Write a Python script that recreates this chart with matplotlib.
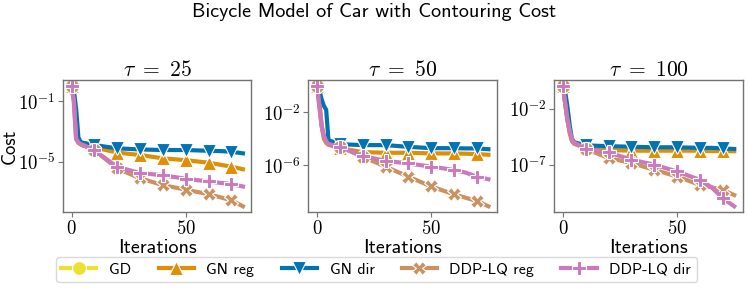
"""Bicycle model contouring-cost convergence, three horizons."""

import matplotlib

matplotlib.use("Agg")
import matplotlib.pyplot as plt
import numpy as np

plt.rcParams["mathtext.fontset"] = "cm"
plt.rcParams["font.family"] = ["cmss10", "DejaVu Sans"]
plt.rcParams["axes.unicode_minus"] = False

# iteration grid the values were read at
iters = [0, 1, 2, 3, 4, 5, 10, 20, 30, 40, 50, 60, 65, 70, 75]
horizons = [25, 50, 100]
methods = ["GD", "GN reg", "GN dir", "DDP-LQ reg", "DDP-LQ dir"]

# log10(cost), one list per horizon; GD is not visible in the picture
gd_log = [[], [], []]
gn_reg_log = [
    [0.0, -0.5, -2.8, -3.7, -3.85, -3.95, -4.06, -4.4, -4.56, -4.78, -4.9, -5.07, -5.2, -5.33, -5.5],
    [0.0, -1.0, -3.0, -4.0, -4.3, -4.45, -4.7, -5.0, -5.05, -5.05, -5.1, -5.1, -5.12, -5.15, -5.2],
    [0.0, -1.5, -3.0, -4.2, -4.9, -5.15, -5.5, -5.7, -5.75, -5.75, -5.75, -5.75, -5.78, -5.8, -5.8],
]
gn_dir_log = [
    [0.0, -0.3, -1.5, -3.4, -3.7, -3.75, -3.9, -4.12, -4.19, -4.23, -4.23, -4.28, -4.3, -4.34, -4.45],
    [0.0, -0.3, -1.0, -1.5, -1.8, -4.1, -4.4, -4.47, -4.47, -4.6, -4.7, -4.7, -4.72, -4.72, -4.78],
    [0.0, -0.5, -1.8, -3.5, -4.7, -5.0, -5.28, -5.35, -5.4, -5.45, -5.45, -5.5, -5.5, -5.55, -5.6],
]
ddp_reg_log = [
    [0.0, -1.0, -3.5, -3.75, -3.85, -3.9, -4.25, -5.45, -6.1, -6.55, -6.85, -7.15, -7.35, -7.55, -7.95],
    [0.0, -1.5, -3.0, -3.8, -4.2, -4.4, -4.6, -5.35, -6.1, -6.86, -7.6, -8.2, -8.45, -8.7, -9.1],
    [0.0, -1.5, -3.0, -4.0, -4.8, -5.05, -5.6, -6.4, -6.85, -7.45, -8.05, -8.8, -9.0, -9.25, -9.7],
]
ddp_dir_log = [
    [0.0, -1.0, -3.5, -3.75, -3.85, -3.9, -4.25, -5.35, -5.75, -5.9, -6.13, -6.31, -6.4, -6.48, -6.64],
    [0.0, -1.5, -3.0, -3.8, -4.2, -4.4, -4.6, -5.3, -5.66, -5.86, -6.1, -6.35, -6.55, -6.86, -7.05],
    [0.0, -1.5, -3.0, -4.0, -4.8, -5.05, -5.6, -5.9, -6.55, -7.0, -7.6, -8.35, -9.0, -9.98, -10.7],
]
ytick_exps = [[-1, -5], [-2, -6], [-2, -7]]
xticks = [0, 50]

colors = ["#ece133", "#de8f05", "#0173b2", "#ca9161", "#cc78bc"]
markers = ["o", "^", "v", "X", "P"]
series = [gd_log, gn_reg_log, gn_dir_log, ddp_reg_log, ddp_dir_log]

fig = plt.figure(figsize=(7.48, 2.91), dpi=100)
lefts = [0.0842, 0.4124, 0.741]
x = np.array(iters)
marks = [i for i, it in enumerate(iters) if it % 10 == 0]
handles = []
for k, tau in enumerate(horizons):
    ax = fig.add_axes([lefts[k], 0.2704, 0.252, 0.4546])
    for name, data, c, m in zip(methods, series, colors, markers):
        vals = data[k]
        xs = x[: len(vals)]
        (ln,) = ax.plot(xs, 10.0 ** np.array(vals, dtype=float), color=c, lw=3,
                        marker=m, ms=10, mec="white", mew=0.8,
                        markevery=[i for i in marks if i < len(vals)], label=name)
        if k == 0:
            handles.append(ln)
    ax.set_yscale("log")
    ax.set_yticks([10.0 ** e for e in ytick_exps[k]],
                  [f"$10^{{{e}}}$" for e in ytick_exps[k]], fontsize=13.5)
    ax.yaxis.set_minor_locator(matplotlib.ticker.NullLocator())
    ax.set_xticks(xticks, [f"${t}$" for t in xticks], fontsize=13.5)
    ax.set_title(rf"$\tau\ =\ {tau}$", fontsize=15.5, pad=3)
    ax.set_xlabel("Iterations", fontsize=14.5, labelpad=1)
    if k == 0:
        ax.set_ylabel("Cost", fontsize=13.5)
        ax.yaxis.set_label_coords(-0.235, 0.5)
    for sp in ax.spines.values():
        sp.set_color("0.45")
        sp.set_linewidth(1.0)
    ax.tick_params(color="0.45", length=3.5, width=0.8, pad=2)

fig.suptitle("Bicycle Model of Car with Contouring Cost", fontsize=14.5, y=0.99)
fig.legend(handles=handles, loc="center", bbox_to_anchor=(0.503, 0.073), ncol=5,
           fontsize=11.5, handlelength=2.2, handletextpad=0.8, columnspacing=1.7,
           framealpha=1, edgecolor="0.85", borderpad=0.35)
fig.savefig("out.png", dpi=100)
